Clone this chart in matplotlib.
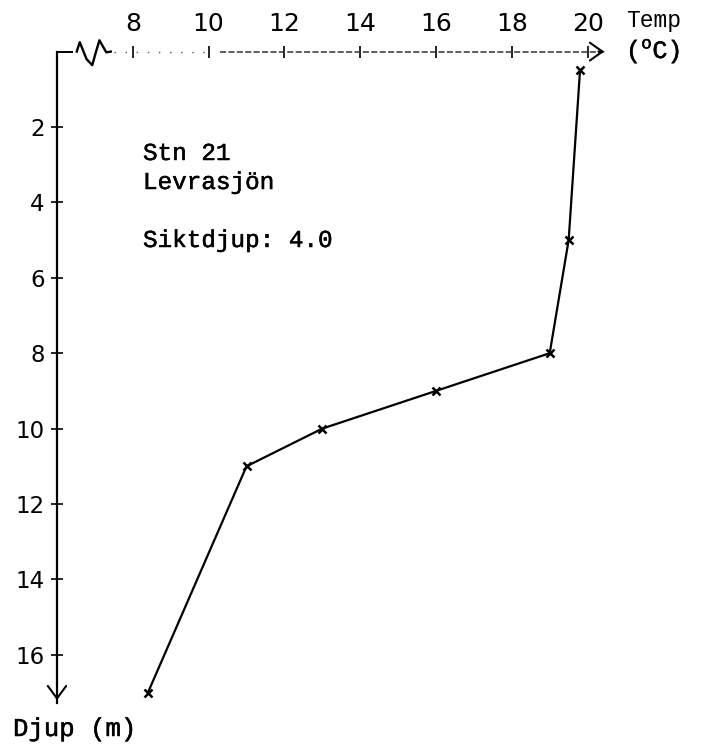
import matplotlib
matplotlib.use("Agg")
import matplotlib.pyplot as plt
import matplotlib.patheffects as pe
from matplotlib import font_manager

# Temperature profile, station 21 (Levrasjön)
depth_m = [0.5, 5, 8, 9, 10, 11, 17]
temp_c = [19.8, 19.5, 19.0, 16.0, 13.0, 11.0, 8.4]

temp_ticks = [8, 10, 12, 14, 16, 18, 20]
depth_ticks = [2, 4, 6, 8, 10, 12, 14, 16]

station_lines = ["Stn 21", "Levrasjön", "", "Siktdjup: 4.0"]

installed = {f.name for f in font_manager.fontManager.ttflist}
narrow = "Liberation Sans Narrow" if "Liberation Sans Narrow" in installed else "DejaVu Sans"
mono = "Liberation Mono"

W, H = 702, 747
fig = plt.figure(figsize=(W / 100, H / 100), dpi=100)
fig.patch.set_facecolor("white")

# axes box: left edge at the depth axis, top edge at the surface
left_px, right_px, top_px, bottom_px = 57, 607, 51.6, 703
ax = fig.add_axes([left_px / W, 1 - bottom_px / H,
                   (right_px - left_px) / W, (bottom_px - top_px) / H])
x0 = 6.0
px_per_deg = 37.9
px_per_m = 37.7
ax.set_xlim(x0, x0 + (right_px - left_px) / px_per_deg)
ax.set_ylim((bottom_px - top_px) / px_per_m, 0)
ax.set_facecolor("none")

for s in ("top", "right", "bottom"):
    ax.spines[s].set_visible(False)
ax.spines["left"].set_linewidth(1.6)
ax.spines["left"].set_color("black")

thick = [pe.withStroke(linewidth=0.35, foreground="black")]

ax.xaxis.tick_top()
ax.set_xticks(temp_ticks)
ax.set_xticklabels([str(t) for t in temp_ticks],
                   fontdict=dict(family=narrow, size=18))
ax.tick_params(axis="x", direction="inout", length=8, width=1.2, pad=7,
               colors="black")
ax.set_yticks(depth_ticks)
ax.set_yticklabels([str(d) for d in depth_ticks],
                   fontdict=dict(family="DejaVu Sans", size=16.5))
ax.tick_params(axis="y", direction="inout", length=8, width=1.2, pad=5,
               colors="black")

xmin, xmax = ax.get_xlim()
ymax = ax.get_ylim()[0]

# temperature axis: broken near the origin, then a dashed line to the arrow
ax.plot([xmin, xmin + 0.4], [0, 0], color="black", lw=1.4, clip_on=False)
sq_x = [xmin + 0.52, xmin + 0.6, xmin + 0.78, xmin + 0.93, xmin + 1.03,
        xmin + 1.12, xmin + 1.3, xmin + 1.42]
sq_y = [0.0, -0.25, 0.2, 0.36, 0.0, -0.3, 0.02, 0.0]
ax.plot(sq_x, sq_y, color="black", lw=1.7, clip_on=False)
ax.plot([xmin + 1.5, 9.9], [0, 0], color="#555555", lw=1.0,
        ls=(0, (1, 7)), clip_on=False)
ax.plot([10.3, xmax - 0.05], [0, 0], color="#333333", lw=1.1,
        ls=(0, (4, 1.5)), clip_on=False)
ax.annotate("", xy=(xmax, 0), xytext=(xmax - 0.3, 0),
            arrowprops=dict(arrowstyle="->,head_length=0.45,head_width=0.32",
                            mutation_scale=20, lw=1.5, color="black"),
            annotation_clip=False)

# depth axis arrow
ax.annotate("", xy=(xmin, ymax), xytext=(xmin, ymax - 0.3),
            arrowprops=dict(arrowstyle="->,head_length=0.45,head_width=0.33",
                            mutation_scale=20, lw=1.5, color="black"),
            annotation_clip=False)

# profile
ax.plot(temp_c, depth_m, color="black", lw=1.6, marker="x", ms=6, mew=1.8,
        clip_on=False)

plt.rcParams["mathtext.fontset"] = "custom"
plt.rcParams["mathtext.rm"] = mono

# station block
for i, line in enumerate(station_lines):
    if line:
        fig.text(143 / W, 1 - (160 + i * 29) / H, line, family=mono,
                 size=17.5, ha="left", va="baseline", color="black",
                 path_effects=thick)

fig.text(13 / W, 1 - 736 / H, "Djup (m)", family=mono, size=18.5,
         ha="left", va="baseline", color="black", path_effects=thick)
fig.text(626 / W, 1 - 27 / H, "Temp", family=mono, size=16.5,
         ha="left", va="baseline", color="black")
fig.text(626 / W, 1 - 58 / H, r"($^{\mathrm{o}}$C)", family=mono, size=18,
         ha="left", va="baseline", color="black", path_effects=thick)

fig.savefig("out.png", dpi=100, facecolor="white")
